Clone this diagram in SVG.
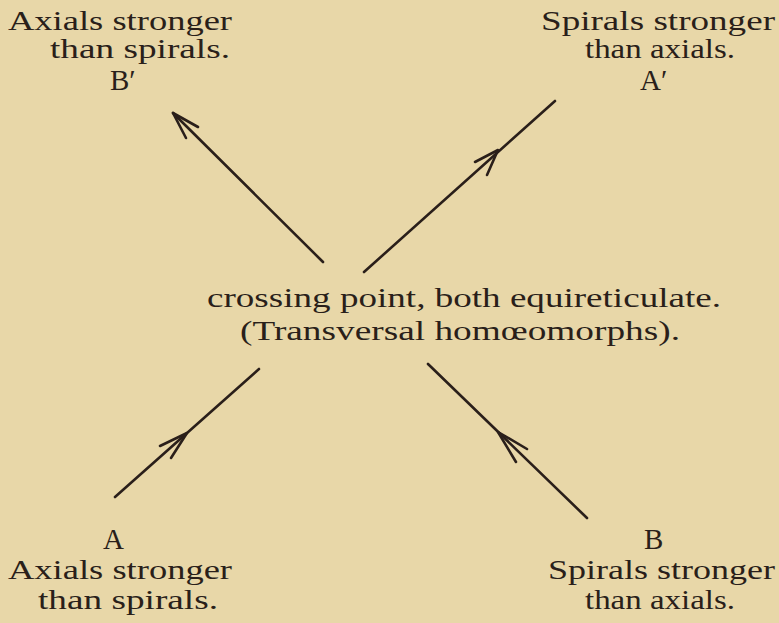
<svg xmlns="http://www.w3.org/2000/svg" width="779" height="623" viewBox="0 0 779 623">
<style>
text{font-family:"Liberation Serif","DejaVu Serif",serif;font-size:28px;fill:#2a1f1a;text-anchor:start}
text.l{font-size:29px}
.ln{stroke:#2a1f1a;stroke-width:2.6;fill:none;stroke-linecap:round;stroke-linejoin:round}
</style>
<rect width="779" height="623" fill="#E8D7A8"/>
<g id="connectors">
<line class="ln" x1="323" y1="262" x2="173" y2="113"/>
<path class="ln" d="M186,138 L173,113 L198,127"/>
<line class="ln" x1="364" y1="272" x2="555" y2="101"/>
<path class="ln" d="M475,162 L498,150 L487,175"/>
<line class="ln" x1="115" y1="497" x2="259" y2="369"/>
<path class="ln" d="M160,446 L187,433 L171,458"/>
<line class="ln" x1="428" y1="364" x2="587" y2="518"/>
<path class="ln" d="M527,449 L498,432 L516,462"/>
</g>
<g id="nodeBp">
<text x="8" y="30" textLength="224" lengthAdjust="spacingAndGlyphs">Axials stronger</text>
<text x="50" y="58" textLength="180" lengthAdjust="spacingAndGlyphs">than spirals.</text>
<text class="l" x="110" y="90">B′</text>
</g>
<g id="nodeAp">
<text x="541" y="30" textLength="234" lengthAdjust="spacingAndGlyphs">Spirals stronger</text>
<text x="585" y="58" textLength="150" lengthAdjust="spacingAndGlyphs">than axials.</text>
<text class="l" x="640" y="90">A′</text>
</g>
<g id="nodeCenter">
<text x="207" y="307" textLength="514" lengthAdjust="spacingAndGlyphs">crossing point, both equireticulate.</text>
<text x="240" y="340" textLength="440" lengthAdjust="spacingAndGlyphs">(Transversal homœomorphs).</text>
</g>
<g id="nodeA">
<text class="l" x="103" y="549">A</text>
<text x="8" y="579" textLength="224" lengthAdjust="spacingAndGlyphs">Axials stronger</text>
<text x="38" y="609" textLength="180" lengthAdjust="spacingAndGlyphs">than spirals.</text>
</g>
<g id="nodeB">
<text class="l" x="644" y="549">B</text>
<text x="548" y="579" textLength="227" lengthAdjust="spacingAndGlyphs">Spirals stronger</text>
<text x="585" y="609" textLength="150" lengthAdjust="spacingAndGlyphs">than axials.</text>
</g>
</svg>
